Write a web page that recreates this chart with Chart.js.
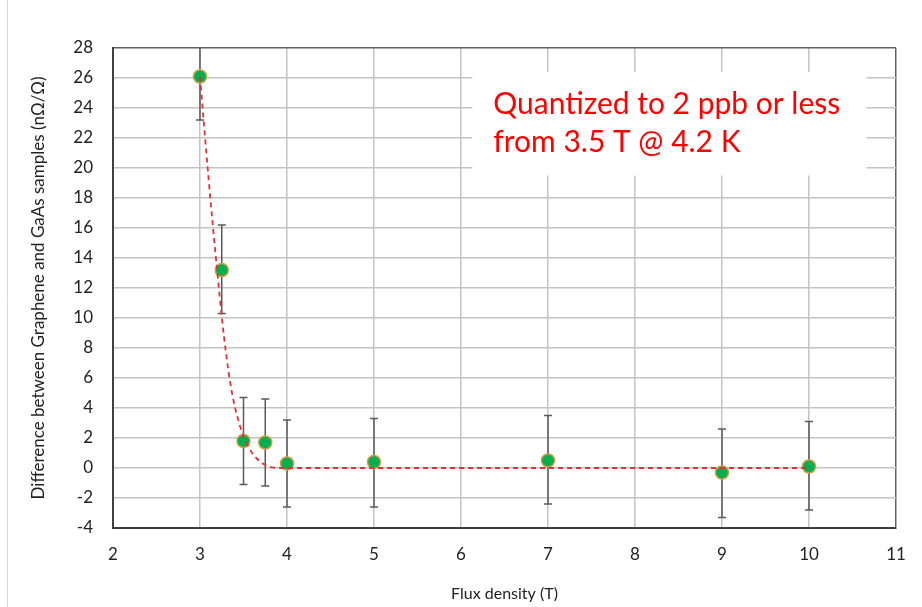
<!DOCTYPE html>
<html>
<head>
<meta charset="utf-8">
<script src="https://cdn.jsdelivr.net/npm/chart.js@4.4.1/dist/chart.umd.min.js"></script>
<style>
  html, body { margin: 0; padding: 0; background: #fff; }
  #wrap { width: 922px; height: 607px; position: relative; }
</style>
</head>
<body>
<div id="wrap"><canvas id="myChart" width="922" height="607"></canvas></div>
<script>
  // measured points
  const flux = [3, 3.25, 3.5, 3.75, 4, 5, 7, 9, 10]
  const diff = [26.1, 13.2, 1.8, 1.7, 0.3, 0.4, 0.5, -0.3, 0.1]
  const errHigh = [29.0, 16.2, 4.7, 4.6, 3.2, 3.3, 3.5, 2.6, 3.1]
  const errLow = [23.2, 10.3, -1.1, -1.2, -2.6, -2.6, -2.4, -3.3, -2.8]

  // red dashed fit
  const fitX = [3, 3.05, 3.1, 3.15, 3.2, 3.25, 3.3, 3.35, 3.4, 3.45, 3.5, 3.55, 3.6, 3.65, 3.7, 3.75, 3.8, 3.85, 3.9, 4, 5, 6, 7, 8, 9, 10]
  const fitY = [26.1, 22.6, 19.2, 16.0, 13.0, 10.1, 7.6, 5.6, 4.1, 3.0, 2.1, 1.5, 1.0, 0.65, 0.4, 0.2, 0.08, 0.02, 0, 0, 0, 0, 0, 0, 0, 0]

  const xTicks = [2, 3, 4, 5, 6, 7, 8, 9, 10, 11]
  const yTicks = [-4, -2, 0, 2, 4, 6, 8, 10, 12, 14, 16, 18, 20, 22, 24, 26, 28]

  const note = ['Quantized to 2 ppb or less', 'from 3.5 T @ 4.2 K']

  const fontFam = 'Lato, "Open Sans", sans-serif'

  const errorBars = {
    id: 'errorBars',
    beforeDatasetsDraw(chart) {
      const ctx = chart.ctx
      const xs = chart.scales.x, ys = chart.scales.y
      const a = chart.chartArea
      ctx.save()
      ctx.beginPath()
      ctx.rect(a.left, a.top - 1, a.right - a.left, a.bottom - a.top + 2)
      ctx.clip()
      ctx.strokeStyle = '#5a5a5a'
      ctx.lineWidth = 1.5
      flux.forEach((f, i) => {
        const px = xs.getPixelForValue(f)
        const hi = ys.getPixelForValue(errHigh[i])
        const lo = ys.getPixelForValue(errLow[i])
        ctx.beginPath()
        ctx.moveTo(px, hi); ctx.lineTo(px, lo)
        ctx.moveTo(px - 4, hi); ctx.lineTo(px + 4, hi)
        ctx.moveTo(px - 4, lo); ctx.lineTo(px + 4, lo)
        ctx.stroke()
      })
      ctx.restore()

      // note box covers the grid
      const x0 = xs.getPixelForValue(6.13), x1 = xs.getPixelForValue(10.66)
      const y0 = ys.getPixelForValue(26.4), y1 = ys.getPixelForValue(19.5)
      ctx.save()
      ctx.fillStyle = '#ffffff'
      ctx.fillRect(x0, y0, x1 - x0, y1 - y0)
      let size = 28
      ctx.font = size + 'px ' + fontFam
      const w = ctx.measureText(note[0]).width
      size = size * 347 / w
      ctx.font = size + 'px ' + fontFam
      ctx.fillStyle = '#ff0000'
      ctx.textBaseline = 'alphabetic'
      ctx.fillText(note[0], x0 + 21, y0 + 42)
      ctx.fillText(note[1], x0 + 21, y0 + 80)
      ctx.restore()
    },
    afterDraw(chart) {
      const ctx = chart.ctx
      ctx.save()
      ctx.strokeStyle = '#d8d8d8'
      ctx.lineWidth = 1
      ctx.beginPath()
      ctx.moveTo(7.5, 0); ctx.lineTo(7.5, chart.height)
      ctx.stroke()
      ctx.restore()
    }
  }

  const config = {
    type: 'scatter',
    data: {
      datasets: [
        {
          label: 'fit',
          data: fitX.map((x, i) => ({x: x, y: fitY[i]})),
          showLine: true,
          borderColor: '#e2313b',
          borderWidth: 1.8,
          borderDash: [5, 4],
          pointRadius: 0,
          cubicInterpolationMode: 'monotone',
          fill: false,
        },
        {
          label: 'difference',
          data: flux.map((x, i) => ({x: x, y: diff[i]})),
          backgroundColor: '#00b050',
          borderColor: '#d09a40',
          borderWidth: 1.5,
          pointRadius: 6.5,
        }
      ]
    },
    options: {
      responsive: false,
      animation: false,
      events: [],
      layout: { padding: { left: 0, top: 48, right: 26, bottom: 0 } },
      plugins: {
        legend: { display: false },
        tooltip: { enabled: false },
      },
      scales: {
        x: {
          type: 'linear',
          min: 2, max: 11,
          afterBuildTicks: s => { s.ticks = xTicks.map(v => ({value: v})) },
          afterFit: s => { s.height = 79 },
          grid: {
            color: c => c.tick && c.tick.value === 11 ? '#606060' : '#c4c4c4',
            lineWidth: 1.5,
            drawTicks: false,
          },
          border: { color: '#404040', width: 2 },
          ticks: { padding: 16, color: '#222', font: { family: fontFam, size: 17 } },
          title: {
            display: true, text: 'Flux density (T)', color: '#222',
            font: { family: fontFam, size: 16 }, padding: { top: 0, bottom: 4 }
          }
        },
        y: {
          type: 'linear',
          min: -4, max: 28,
          afterBuildTicks: s => { s.ticks = yTicks.map(v => ({value: v})) },
          afterFit: s => { s.width = 113 },
          grid: {
            color: c => c.tick && c.tick.value === 28 ? '#606060' : '#c4c4c4',
            lineWidth: 1.5,
            drawTicks: false,
          },
          border: { color: '#404040', width: 2 },
          ticks: { padding: 20, color: '#222', font: { family: fontFam, size: 17 } },
          title: {
            display: true, text: 'Difference between Graphene and GaAs samples (nΩ/Ω)', color: '#222',
            font: { family: fontFam, size: 17 }, padding: { top: 28, bottom: 0 }
          }
        }
      }
    },
    plugins: [errorBars]
  }

  const myChart = new Chart(document.getElementById('myChart'), config)
</script>
</body>
</html>
